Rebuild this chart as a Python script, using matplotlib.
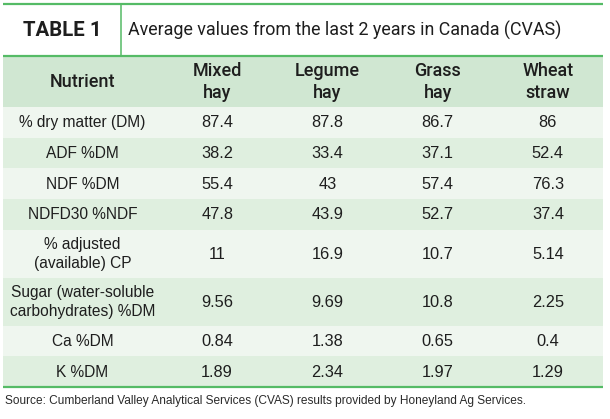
import matplotlib
matplotlib.use('Agg')
import matplotlib.pyplot as plt
from matplotlib.patches import Rectangle

# table content
title_tag = 'TABLE 1'
title_text = 'Average values from the last 2 years in Canada (CVAS)'
columns = ['Nutrient', 'Mixed\nhay', 'Legume\nhay', 'Grass\nhay', 'Wheat\nstraw']
nutrients = ['% dry matter (DM)', 'ADF %DM', 'NDF %DM', 'NDFD30 %NDF',
             '% adjusted\n(available) CP', 'Sugar (water-soluble\ncarbohydrates) %DM',
             'Ca %DM', 'K %DM']
mixed_hay = [87.4, 38.2, 55.4, 47.8, 11, 9.56, 0.84, 1.89]
legume_hay = [87.8, 33.4, 43, 43.9, 16.9, 9.69, 1.38, 2.34]
grass_hay = [86.7, 37.1, 57.4, 52.7, 10.7, 10.8, 0.65, 1.97]
wheat_straw = [86, 52.4, 76.3, 37.4, 5.14, 2.25, 0.4, 1.29]
source = ('Source: Cumberland Valley Analytical Services (CVAS) results '
          'provided by Honeyland Ag Services.')

# layout (pixels)
W, H = 610, 419
left, right = 3, 603
top_line, title_line = 4, 56
header_bottom = 107
nut_col_w = 159
row_h1, row_h2 = 30.7, 48
green = '#55bb66'
header_bg = '#d0e7d2'
row_bgs = ['#eff6ef', '#dfefdf']
txt = '#1e1e1e'
head_font = ['Roboto', 'DejaVu Sans']
body_font = ['Liberation Sans', 'DejaVu Sans']

fig = plt.figure(figsize=(W / 100, H / 100), dpi=100)
ax = fig.add_axes([0, 0, 1, 1])
ax.set_xlim(0, W)
ax.set_ylim(H, 0)
ax.axis('off')

# title band
ax.plot([left, right], [top_line, top_line], color=green, lw=1.6, solid_capstyle='butt')
ax.plot([left, right], [title_line, title_line], color=green, lw=1.6, solid_capstyle='butt')
ax.plot([121, 121], [top_line, title_line], color=green, lw=1.1)
ax.text((left + 121) / 2, 30.5, title_tag, fontsize=14.7, fontweight='bold',
        family=head_font, color=txt, ha='center', va='center')
ax.text(128, 30.5, title_text, fontsize=12.9, family=head_font, color=txt,
        ha='left', va='center')

# header row
ax.add_patch(Rectangle((left, title_line + 0.8), right - left, header_bottom - title_line - 0.8,
                       facecolor=header_bg, edgecolor='none'))
data_w = (right - left - nut_col_w) / 4
col_x = [left + nut_col_w / 2] + [left + nut_col_w + data_w * (i + 0.5) for i in range(4)]
for x, c in zip(col_x, columns):
    ax.text(x, (title_line + header_bottom) / 2 + 0.5, c, fontsize=13, family=head_font,
            fontweight='medium', color=txt, ha='center', va='center', linespacing=1.3,
            multialignment='center')

# body rows
series = [mixed_hay, legume_hay, grass_hay, wheat_straw]
y = header_bottom
for i, name in enumerate(nutrients):
    h = row_h2 if '\n' in name else row_h1
    ax.add_patch(Rectangle((left, y), right - left, h, facecolor=row_bgs[i % 2],
                           edgecolor='none'))
    yc = y + h / 2 + 0.5
    ax.text(col_x[0], yc, name, fontsize=11.2, family=body_font, color=txt,
            ha='center', va='center', linespacing=1.35, multialignment='center')
    for x, s in zip(col_x[1:], series):
        ax.text(x, yc, f'{s[i]:g}', fontsize=11.8, family=body_font, color=txt,
                ha='center', va='center')
    y += h

ax.plot([left, right], [y, y], color=green, lw=1.6, solid_capstyle='butt')
ax.text(5, 401, source, fontsize=8.6, family=['Liberation Sans', 'DejaVu Sans'],
        color='#2a2a2a', ha='left', va='center')

fig.savefig('out.png', dpi=100, facecolor='white')
